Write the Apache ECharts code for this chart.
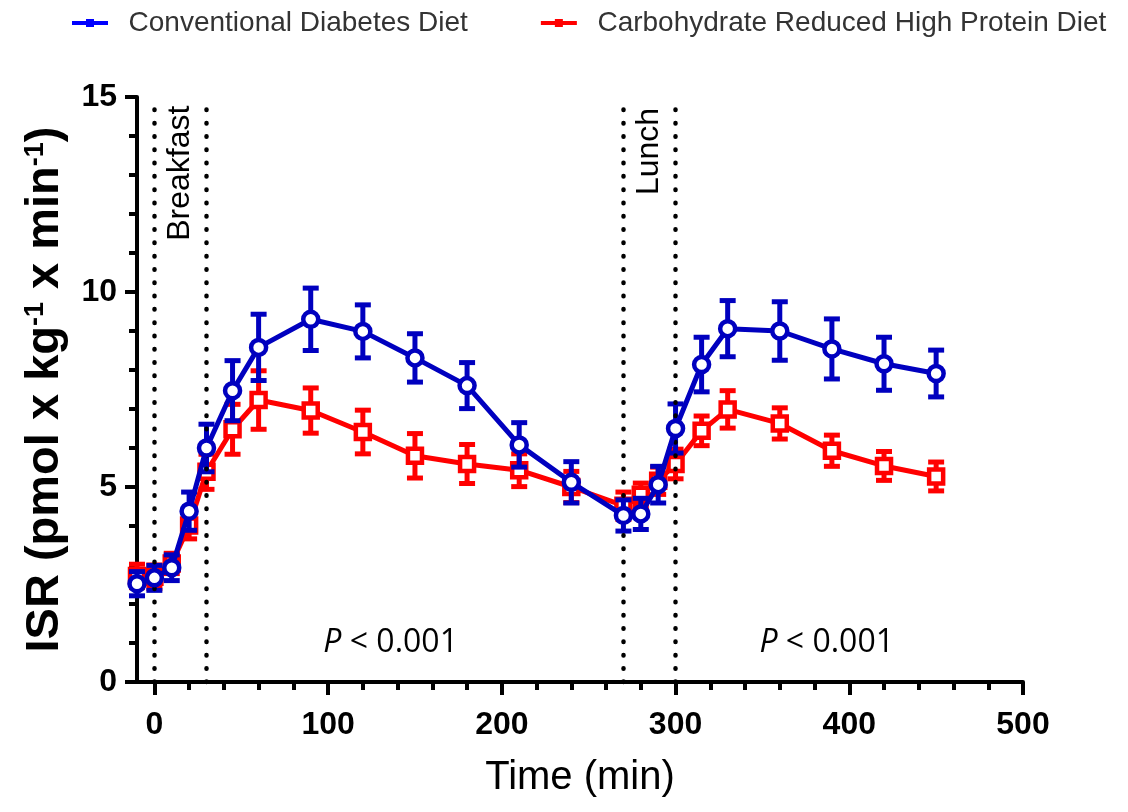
<!DOCTYPE html>
<html>
<head>
<meta charset="utf-8">
<script src="https://cdn.jsdelivr.net/npm/echarts@6/dist/echarts.min.js"></script>
<style>
html,body{margin:0;padding:0;background:#fff;}
#chart{width:1128px;height:812px;}
</style>
</head>
<body>
<div id="chart"></div>
<script>
// ---- data ----
const timeMin = [-10, 0, 10, 20, 30, 45, 60, 90, 120, 150, 180, 210, 240, 270, 280, 290, 300, 315, 330, 360, 390, 420, 450];
const convMean = [2.52, 2.67, 2.93, 4.38, 6.0, 7.47, 8.58, 9.30, 8.99, 8.31, 7.60, 6.08, 5.12, 4.27, 4.31, 5.06, 6.50, 8.14, 9.06, 9.0, 8.54, 8.16, 7.91];
const convErr = [0.31, 0.32, 0.33, 0.49, 0.61, 0.77, 0.85, 0.80, 0.68, 0.62, 0.59, 0.57, 0.53, 0.40, 0.40, 0.47, 0.63, 0.70, 0.72, 0.75, 0.77, 0.68, 0.60];
const chpMean = [2.72, 2.70, 3.04, 4.01, 5.39, 6.48, 7.23, 6.96, 6.41, 5.80, 5.59, 5.43, 5.0, 4.52, 4.8, 5.16, 5.59, 6.44, 6.99, 6.63, 5.93, 5.54, 5.27];
const chpErr = [0.30, 0.30, 0.26, 0.34, 0.45, 0.64, 0.75, 0.58, 0.56, 0.57, 0.50, 0.42, 0.40, 0.35, 0.30, 0.35, 0.38, 0.38, 0.48, 0.40, 0.40, 0.37, 0.37];
const seriesNames = ['Conventional Diabetes Diet', 'Carbohydrate Reduced High Protein Diet'];
const mealLines = [0, 30, 270, 300];
const xMajorTicks = [0, 100, 200, 300, 400, 500];
const xMinorTicks = [0, 20, 40, 60, 80, 100, 120, 140, 160, 180, 200, 220, 240, 260, 280, 300, 320, 340, 360, 380, 400, 420, 440, 460, 480, 500];
const yTicks = [0, 5, 10, 15];
const mealLabels = [{text: 'Breakfast', x: 15, y: 14.78}, {text: 'Lunch', x: 285, y: 14.72}];
const pLabels = [{x: 136, y: 1.0}, {x: 387, y: 1.0}];

const BLUE = '#0000bf', RED = '#ff0000';
const FONT = 'Liberation Sans, Arial, sans-serif';

function errData(mean, err) {
  return timeMin.map((t, i) => [t, mean[i] - err[i], mean[i] + err[i]]);
}
function errRender(color) {
  return function (params, api) {
    const x = api.value(0);
    const lo = api.coord([x, api.value(1)]);
    const hi = api.coord([x, api.value(2)]);
    const hw = 8, lw = 5;
    const st = {stroke: color, lineWidth: lw};
    return {type: 'group', children: [
      {type: 'line', shape: {x1: lo[0], y1: lo[1], x2: hi[0], y2: hi[1]}, style: st},
      {type: 'line', shape: {x1: lo[0] - hw, y1: lo[1], x2: lo[0] + hw, y2: lo[1]}, style: st},
      {type: 'line', shape: {x1: hi[0] - hw, y1: hi[1], x2: hi[0] + hw, y2: hi[1]}, style: st}
    ]};
  };
}
const pair = (arr) => timeMin.map((t, i) => [t, arr[i]]);

const chart = echarts.init(document.getElementById('chart'), null, {renderer: 'canvas'});
const legendIcon = 'path://M0,3 L14,3 L14,1 L22,1 L22,3 L36,3 L36,7 L22,7 L22,9 L14,9 L14,7 L0,7 Z';

const option = {
  animation: false,
  backgroundColor: '#fff',
  grid: {left: 137, right: 105, top: 97, bottom: 130},
  legend: {
    left: 72, top: 9, width: 1120, padding: 0,
    icon: legendIcon,
    itemWidth: 36, itemHeight: 9, itemGap: 73,
    formatter: n => '  ' + n,
    textStyle: {fontSize: 28, color: '#333', fontFamily: FONT},
    data: [
      {name: seriesNames[0], itemStyle: {color: '#0000ff', borderWidth: 0}},
      {name: seriesNames[1], itemStyle: {color: '#ff0000', borderWidth: 0}}
    ]
  },
  xAxis: [{
    type: 'value', min: -10, max: 500,
    splitLine: {show: false},
    axisLine: {show: true, onZero: false, lineStyle: {color: '#000', width: 4}},
    axisTick: {show: true, length: 13, lineStyle: {color: '#000', width: 4}, customValues: xMajorTicks},
    axisLabel: {show: true, customValues: xMajorTicks, margin: 27, fontSize: 32, fontWeight: 'bold', color: '#000', fontFamily: FONT},
    name: 'Time (min)', nameLocation: 'middle', nameGap: 76,
    nameTextStyle: {fontSize: 40, color: '#000', fontFamily: FONT}
  }, {
    type: 'value', min: -10, max: 500, position: 'bottom',
    splitLine: {show: false},
    axisLine: {show: false},
    axisTick: {show: true, length: 8, lineStyle: {color: '#000', width: 4}, customValues: xMinorTicks},
    axisLabel: {show: false}
  }],
  yAxis: {
    type: 'value', min: 0, max: 15, interval: 5,
    splitLine: {show: false},
    axisLine: {show: true, onZero: false, lineStyle: {color: '#000', width: 4}},
    axisTick: {show: true, length: 12, lineStyle: {color: '#000', width: 4}},
    minorTick: {show: true, splitNumber: 5, length: 8, lineStyle: {color: '#000', width: 4}},
    axisLabel: {margin: 20, fontSize: 32, fontWeight: 'bold', color: '#000', fontFamily: FONT},
    name: '{b|ISR (pmol x kg}{s|-1}{b| x min}{s|-1}{b|)}',
    nameLocation: 'middle', nameRotate: 90, nameGap: 68,
    nameTextStyle: {
      rich: {
        b: {fontSize: 47, fontWeight: 'bold', color: '#000', fontFamily: FONT},
        s: {fontSize: 27, fontWeight: 'bold', color: '#000', fontFamily: FONT, verticalAlign: 'top'}
      }
    }
  },
  series: [
    {
      name: seriesNames[1], type: 'custom', renderItem: errRender(RED),
      data: errData(chpMean, chpErr), encode: {x: 0, y: [1, 2]}, z: 2, silent: true
    },
    {
      name: seriesNames[1], type: 'line', data: pair(chpMean), z: 3,
      symbol: 'rect', symbolSize: 14, showAllSymbol: true,
      lineStyle: {color: RED, width: 5},
      itemStyle: {color: '#fff', borderColor: RED, borderWidth: 4.5},
      markLine: {
        silent: true, symbol: 'none', label: {show: false},
        lineStyle: {color: '#000', width: 4.5, type: [0.5, 12.8], cap: 'round'},
        data: mealLines.map(v => ({xAxis: v}))
      }
    },
    {
      name: seriesNames[0], type: 'custom', renderItem: errRender(BLUE),
      data: errData(convMean, convErr), encode: {x: 0, y: [1, 2]}, z: 4, silent: true
    },
    {
      name: seriesNames[0], type: 'line', data: pair(convMean), z: 5,
      symbol: 'circle', symbolSize: 15, showAllSymbol: true,
      lineStyle: {color: BLUE, width: 5},
      itemStyle: {color: '#fff', borderColor: BLUE, borderWidth: 4.5}
    }
  ]
};
chart.setOption(option);

const graphics = [];
mealLabels.forEach(m => {
  const p = chart.convertToPixel({xAxisIndex: 0, yAxisIndex: 0}, [m.x, m.y]);
  graphics.push({
    type: 'text', x: p[0], y: p[1], rotation: Math.PI / 2, z: 10,
    style: {text: m.text, x: 0, y: 0, fill: '#000', fontSize: 32, fontFamily: FONT,
      align: 'right', textAlign: 'right', verticalAlign: 'middle', textVerticalAlign: 'middle'}
  });
});
pLabels.forEach(m => {
  const p = chart.convertToPixel({xAxisIndex: 0, yAxisIndex: 0}, [m.x, m.y]);
  graphics.push({
    type: 'text', x: p[0], y: p[1], z: 10,
    style: {text: '{i|P} < 0.001', x: 0, y: 0, fill: '#000', fontSize: 32, fontFamily: 'Open Sans, sans-serif',
      align: 'center', textAlign: 'center', verticalAlign: 'middle', textVerticalAlign: 'middle',
      rich: {i: {fontStyle: 'italic', fontSize: 32, fontFamily: 'Open Sans, sans-serif', fill: '#000'}}}
  });
});
chart.setOption({graphic: graphics});
</script>
</body>
</html>
